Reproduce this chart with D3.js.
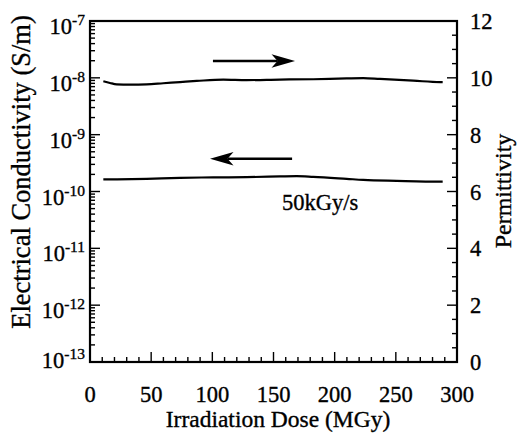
<!DOCTYPE html>
<html><head><meta charset="utf-8">
<script src="https://cdn.jsdelivr.net/npm/d3@7"></script>
<style>body{margin:0;background:#fff}svg{display:block}svg text{stroke:#000;stroke-width:0.35px}</style>
</head><body><svg id="c" width="518" height="434" font-family="'Liberation Serif', 'DejaVu Serif', serif"></svg>
<script>
// Data
const permDose = [10.9,16.3,21.8,32.7,46.3,59.9,73.6,87.2,109,128,155.3,182.5,209.8,223.4,237,264.3,286.1,288.3];
const permVals = [9.88,9.82,9.77,9.76,9.77,9.81,9.85,9.89,9.94,9.92,9.94,9.95,9.98,9.99,9.96,9.90,9.85,9.85];
const condDose = [10.9,46.3,73.6,100.8,128,155.3,168.9,182.5,209.8,223.4,250.7,286.1,288.3];
const condVals = [1.63e-10,1.67e-10,1.74e-10,1.77e-10,1.79e-10,1.84e-10,1.86e-10,1.81e-10,1.67e-10,1.60e-10,1.54e-10,1.49e-10,1.49e-10];
const xTicks = [0,50,100,150,200,250,300];
const yLeftExps = [-13,-12,-11,-10,-9,-8,-7];
const yRightTicks = [0,2,4,6,8,10,12];
const annotationText = "50kGy/s";
// arrows: [x tail, x tip, permittivity level]
const arrowRight = [100.5, 167.6, 10.59];
const arrowLeft = [165.2, 98.1, 7.15];

const FF = "Liberation Serif";
const svg = d3.select("#c");
const L = 90, R = 457, T = 21, B = 362;
const x = d3.scaleLinear().domain([0,300]).range([L,R]);
const yL = d3.scaleLog().domain([1e-13,1e-7]).range([B,T]);
const yR = d3.scaleLinear().domain([0,12]).range([B,T]);

// ticks
const tk = svg.append("g").attr("stroke","#000").attr("stroke-width",1.4);
d3.range(0,301,10).forEach(v=>{
  const len = v%50===0?10:5;
  tk.append("line").attr("x1",x(v)).attr("x2",x(v)).attr("y1",B).attr("y2",B-len);
});
for(let e=-13;e<-7;e++){
  for(let m=1;m<10;m++){
    const v = m*Math.pow(10,e);
    const len = m===1?10:5;
    tk.append("line").attr("x1",L).attr("x2",L+len).attr("y1",yL(v)).attr("y2",yL(v));
  }
}
tk.append("line").attr("x1",L).attr("x2",L+10).attr("y1",yL(1e-7)).attr("y2",yL(1e-7));
d3.range(0,12.01,0.5).forEach(v=>{
  const len = Math.abs(v%2)<1e-9?10:5;
  tk.append("line").attr("x1",R).attr("x2",R-len).attr("y1",yR(v)).attr("y2",yR(v));
});

// frame
svg.append("rect").attr("x",L).attr("y",T).attr("width",R-L).attr("height",B-T)
  .attr("fill","none").attr("stroke","#000").attr("stroke-width",2.2);

// tick labels
svg.append("g").selectAll("text").data(xTicks).join("text")
  .attr("font-family",FF).attr("x",d=>x(d)).attr("y",401.5).attr("text-anchor","middle").attr("font-size",22.5).text(d=>d);
const gl = svg.append("g");
yLeftExps.forEach(e=>{
  const t = gl.append("text").attr("font-family",FF).attr("x",85).attr("y",yL(Math.pow(10,e))+(e===-13?6:13)).attr("text-anchor","end").attr("font-size",22.5);
  t.append("tspan").text("10");
  t.append("tspan").attr("font-size",15.5).attr("dy",-9).text(String(e));
});
svg.append("g").selectAll("text").data(yRightTicks).join("text")
  .attr("font-family",FF).attr("x",470).attr("y",d=>yR(d)+8).attr("font-size",22.5).text(d=>d);

// titles
svg.append("text").attr("font-family",FF).attr("x",278).attr("y",427).attr("text-anchor","middle").attr("font-size",23.5).text("Irradiation Dose (MGy)");
svg.append("text").attr("font-family",FF).attr("transform","translate(30,172) rotate(-90)").attr("text-anchor","middle").attr("font-size",26.5).text("Electrical Conductivity (S/m)");
svg.append("text").attr("font-family",FF).attr("transform","translate(511,191) rotate(-90)").attr("text-anchor","middle").attr("font-size",24).text("Permittivity");

// lines
const lp = d3.line().x((d,i)=>x(permDose[i])).y(d=>yR(d)).curve(d3.curveMonotoneX);
svg.append("path").attr("d",lp(permVals)).attr("fill","none").attr("stroke","#000").attr("stroke-width",2.2);
const lc = d3.line().x((d,i)=>x(condDose[i])).y(d=>yL(d)).curve(d3.curveMonotoneX);
svg.append("path").attr("d",lc(condVals)).attr("fill","none").attr("stroke","#000").attr("stroke-width",2.2);

// arrows
function arrow(a){
  const x0=x(a[0]), x1=x(a[1]), yy=yR(a[2]);
  const dir = Math.sign(x1-x0);
  const hl = 23.5, hw = 6.7, notch = 6;
  svg.append("line").attr("x1",x0).attr("x2",x1-dir*hl+dir*notch).attr("y1",yy).attr("y2",yy).attr("stroke","#000").attr("stroke-width",2.4);
  const p = [[x1,yy],[x1-dir*hl,yy-hw],[x1-dir*hl+dir*notch,yy],[x1-dir*hl,yy+hw]];
  svg.append("path").attr("d","M"+p.map(q=>q.join(",")).join("L")+"Z").attr("fill","#000");
}
arrow(arrowRight); arrow(arrowLeft);

svg.append("text").attr("font-family",FF).attr("x",282).attr("y",210).attr("font-size",22.5).text(annotationText);
</script></body></html>
